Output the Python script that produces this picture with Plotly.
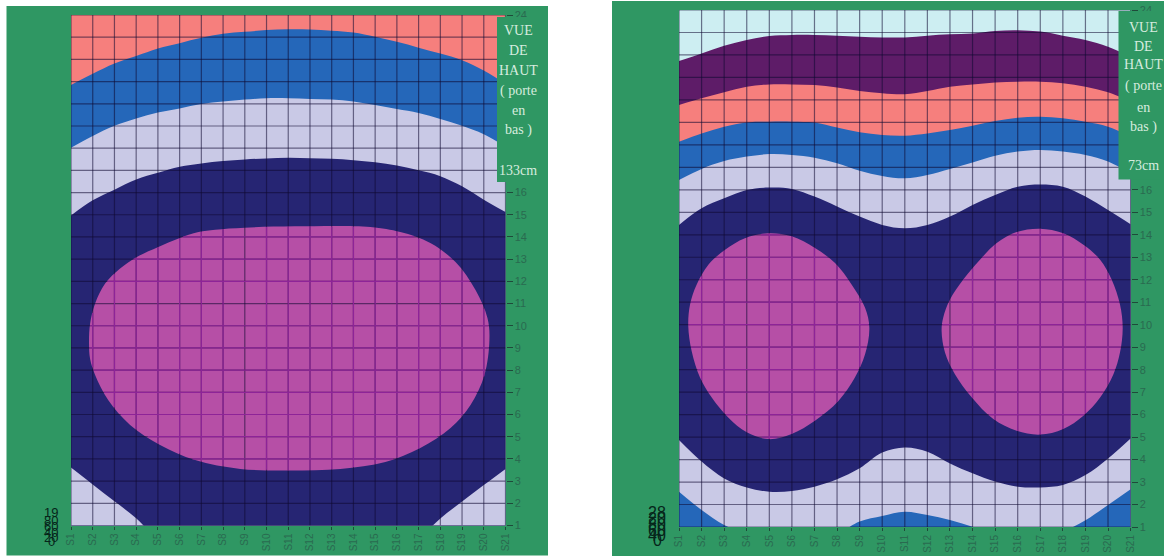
import plotly.graph_objects as go

W, H = 1164, 556
GREEN = "#2f9763"
SALMON = "#f67f7d"
BLUE = "#2567b9"
LAV = "#c9c9e6"
NAVY = "#262573"
PINK = "#b64fa6"
PURPLE = "#5e1c68"
ICE = "#cdeef2"

categories = [f"S{i}" for i in range(1, 22)]
col = list(range(1, 22))
rows = list(range(1, 25))
shown_rows = list(range(1, 17)) + [24]

# ---- left chart (133cm)
l_top = [24] * 21
l_salmon_blue = [20.85, 21.35, 21.81, 22.15, 22.49, 22.73, 22.97, 23.15, 23.24, 23.32, 23.36, 23.35, 23.29, 23.21, 23.02, 22.79, 22.53, 22.26, 21.96, 21.5, 20.9]
l_blue_lav = [18.02, 18.55, 19.01, 19.34, 19.61, 19.79, 19.99, 20.1, 20.19, 20.25, 20.25, 20.22, 20.19, 20.1, 19.94, 19.76, 19.58, 19.31, 19.01, 18.63, 18.07]
l_lav_navy = [14.97, 15.65, 16.13, 16.59, 16.89, 17.16, 17.31, 17.42, 17.49, 17.54, 17.57, 17.55, 17.52, 17.46, 17.37, 17.22, 17.0, 16.74, 16.28, 15.68, 15.12]
l_navy_lav = [3.61, 2.85, 2.09, 1.33, 0.4, 0.1, 0.1, 0.1, 0.1, 0.1, 0.1, 0.1, 0.1, 0.1, 0.1, 0.1, 0.45, 1.32, 2.08, 2.82, 3.55]
l_pink_s = [1.83, 1.88, 2.11, 2.57, 3.26, 4.03, 5.02, 5.95, 6.87, 7.64, 9.0, 11.3, 14.78, 16.16, 17.54, 18.7, 19.62, 20.17, 20.26, 20.03, 19.39, 18.47, 17.08, 15.47, 13.4, 11.09, 8.79, 6.71, 5.1, 3.72, 2.71, 2.11, 1.88, 1.83]
l_pink_v = [9.2, 10.1, 11.0, 11.9, 12.58, 13.1, 13.55, 13.93, 14.22, 14.33, 14.42, 14.48, 14.45, 14.22, 13.73, 12.87, 11.61, 10.35, 9.36, 7.78, 6.43, 5.39, 4.49, 3.86, 3.55, 3.48, 3.55, 3.95, 4.63, 5.53, 6.65, 7.78, 8.5, 9.2]

# ---- right chart (73cm)
r_top = [24] * 21
r_ice_purple = [21.73, 22.07, 22.41, 22.67, 22.84, 22.89, 22.89, 22.86, 22.81, 22.78, 22.78, 22.86, 22.92, 22.96, 23.07, 23.1, 23.04, 22.86, 22.67, 22.37, 21.92]
r_purple_salmon = [19.77, 20.07, 20.34, 20.59, 20.69, 20.69, 20.66, 20.55, 20.4, 20.3, 20.25, 20.4, 20.59, 20.69, 20.78, 20.81, 20.81, 20.74, 20.59, 20.34, 19.92]
r_salmon_blue = [18.14, 18.51, 18.81, 19.0, 19.03, 19.03, 18.99, 18.77, 18.56, 18.44, 18.41, 18.51, 18.66, 18.85, 19.06, 19.21, 19.25, 19.18, 19.03, 18.81, 18.37]
r_blue_lav = [16.44, 16.93, 17.28, 17.48, 17.59, 17.55, 17.43, 17.18, 16.85, 16.62, 16.51, 16.66, 16.93, 17.22, 17.52, 17.7, 17.77, 17.7, 17.55, 17.26, 16.73]
r_lav_navy = [14.44, 15.18, 15.62, 15.99, 16.1, 16.04, 15.7, 15.26, 14.81, 14.44, 14.29, 14.44, 14.81, 15.33, 15.77, 16.14, 16.24, 16.14, 15.7, 15.1, 14.47]
r_navy_lav = [4.87, 3.91, 3.16, 2.76, 2.57, 2.6, 2.79, 3.12, 3.61, 4.31, 4.54, 4.35, 3.83, 3.39, 3.02, 2.79, 2.76, 2.87, 3.31, 4.05, 4.94]
r_lav_blue = [2.57, 1.76, 1.09, 0.7, 0.5, 0.4, 0.5, 0.7, 1.24, 1.49, 1.68, 1.53, 1.31, 1.01, 0.7, 0.5, 0.5, 0.8, 1.3, 1.98, 2.68]
r_pink1_s = [4.96, 3.92, 3.04, 2.3, 1.78, 1.49, 1.41, 1.56, 1.93, 2.45, 3.18, 4.0, 4.96, 5.99, 7.02, 8.06, 8.79, 9.24, 9.43, 9.24, 8.65, 7.91, 7.02, 5.99, 4.96]
r_pink1_v = [14.07, 13.85, 13.33, 12.67, 11.78, 10.9, 9.94, 8.83, 7.65, 6.76, 5.87, 5.21, 4.91, 5.14, 5.73, 6.61, 7.65, 8.68, 9.86, 10.75, 11.78, 12.74, 13.41, 13.93, 14.07]
r_pink2_s = [16.99, 15.95, 15.07, 14.33, 13.59, 13.0, 12.7, 12.63, 12.78, 13.22, 13.96, 14.92, 15.95, 16.99, 18.02, 18.91, 19.65, 20.24, 20.53, 20.65, 20.53, 20.16, 19.65, 18.91, 18.02, 16.99]
r_pink2_v = [14.27, 14.12, 13.63, 12.89, 12.01, 11.12, 10.31, 9.72, 8.76, 7.8, 6.77, 5.8, 5.28, 5.11, 5.36, 5.95, 6.76, 7.8, 8.76, 9.86, 10.9, 12.01, 12.89, 13.56, 14.07, 14.27]

panel_lines = ["VUE", "DE", "HAUT", "( porte", "en", "bas )"]
l_stack = ["19", "80", "60", "40", "20", "0"]
r_stack = ["28", "20", "80", "60", "40", "0"]

fig = go.Figure()


def band(y, color, ax):
    fig.add_trace(go.Scatter(x=col, y=y, mode="lines", line=dict(color=color, width=0, shape="spline", smoothing=1),
                             fill="tozeroy", fillcolor=color, hoverinfo="skip", showlegend=False, xaxis=f"x{ax}", yaxis=f"y{ax}"))


def blob(s, v, ax):
    fig.add_trace(go.Scatter(x=s, y=v, mode="lines", line=dict(color=PINK, width=0, shape="spline", smoothing=1),
                             fill="toself", fillcolor=PINK, hoverinfo="skip", showlegend=False, xaxis=f"x{ax}", yaxis=f"y{ax}"))


def grid(ax):
    xs, ys = [], []
    for c in col:
        xs += [c, c, None]
        ys += [rows[0], rows[-1], None]
    for r in rows:
        xs += [col[0], col[-1], None]
        ys += [r, r, None]
    fig.add_trace(go.Scatter(x=xs, y=ys, mode="lines", line=dict(color="rgba(15,10,50,0.55)", width=1.2),
                             hoverinfo="skip", showlegend=False, xaxis=f"x{ax}", yaxis=f"y{ax}"))


def crossings(a, b, level):
    out = []
    for i in range(len(a) - 1):
        if (a[i] - level) * (a[i + 1] - level) < 0:
            t = (level - a[i]) / (a[i + 1] - a[i])
            out.append(b[i] + t * (b[i + 1] - b[i]))
    return out


def blob_grid(s, v, ax):
    xs, ys = [], []
    for c in col:
        hits = crossings(s, v, c)
        if len(hits) >= 2:
            xs += [c, c, None]
            ys += [min(hits), max(hits), None]
    for r in rows:
        hits = crossings(v, s, r)
        if len(hits) >= 2:
            xs += [min(hits), max(hits), None]
            ys += [r, r, None]
    fig.add_trace(go.Scatter(x=xs, y=ys, mode="lines", line=dict(color="rgb(142,36,152)", width=1.2),
                             hoverinfo="skip", showlegend=False, xaxis=f"x{ax}", yaxis=f"y{ax}"))


for y, c in [(l_top, SALMON), (l_salmon_blue, BLUE), (l_blue_lav, LAV), (l_lav_navy, NAVY), (l_navy_lav, LAV)]:
    band(y, c, "")
blob(l_pink_s, l_pink_v, "")
grid("")
blob_grid(l_pink_s, l_pink_v, "")

for y, c in [(r_top, ICE), (r_ice_purple, PURPLE), (r_purple_salmon, SALMON), (r_salmon_blue, BLUE),
             (r_blue_lav, LAV), (r_lav_navy, NAVY), (r_navy_lav, LAV), (r_lav_blue, BLUE)]:
    band(y, c, "2")
blob(r_pink1_s, r_pink1_v, "2")
blob(r_pink2_s, r_pink2_v, "2")
grid("2")
blob_grid(r_pink1_s, r_pink1_v, "2")
blob_grid(r_pink2_s, r_pink2_v, "2")


def px(x):
    return x / W


def py(y):
    return 1 - y / H


def xaxis(domain, anchor):
    return dict(domain=domain, anchor=anchor, range=[1, 21], tickmode="array", tickvals=col, ticktext=categories,
                tickangle=-90, tickfont=dict(family="Liberation Sans", size=10, color="#2a6a50"), showgrid=False,
                zeroline=False, ticks="outside", ticklen=3, tickcolor="#1f4a3a", showline=False, fixedrange=True)


def yaxis(domain, anchor):
    return dict(domain=domain, anchor=anchor, side="right", range=[1, 24], tickmode="array", tickvals=shown_rows,
                ticktext=[str(r) for r in shown_rows], tickfont=dict(family="Liberation Sans", size=11, color="#2a6a50"),
                showgrid=False, zeroline=False, ticks="outside", ticklen=6, tickcolor="#1f4a3a", showline=False, fixedrange=True)


shapes = [
    dict(type="rect", xref="paper", yref="paper", x0=px(6.5), x1=px(548), y0=py(555.5), y1=py(6), fillcolor=GREEN, line_width=0, layer="below"),
    dict(type="rect", xref="paper", yref="paper", x0=px(612), x1=px(1164), y0=py(556), y1=py(1), fillcolor=GREEN, line_width=0, layer="below"),
    dict(type="rect", xref="paper", yref="paper", x0=px(497), x1=px(527), y0=py(182), y1=py(17), fillcolor=GREEN, line_width=0, layer="above"),
    dict(type="rect", xref="paper", yref="paper", x0=px(1118.5), x1=px(1160), y0=py(179.5), y1=py(11), fillcolor=GREEN, line_width=0, layer="above"),
]

annotations = []


def label(text, x, y, size, color, family):
    annotations.append(dict(text=text, xref="paper", yref="paper", x=px(x), y=py(y), showarrow=False,
                            xanchor="center", yanchor="middle", font=dict(family=family, size=size, color=color)))


for t, y in zip(panel_lines + ["133cm"], [30, 50, 70, 91, 110, 130, 170]):
    label(t, 518, y, 14, "#d6ecdf", "Liberation Serif")
for t, y in zip(panel_lines + ["73cm"], [27, 46, 65, 86, 107, 127, 166]):
    label(t, 1143, y, 14, "#d6ecdf", "Liberation Serif")
for t, y in zip(l_stack, [512, 520, 526, 532, 537, 541]):
    label(t, 51, y, 13, "#06251a", "Liberation Sans")
for t, y in zip(r_stack, [512, 518, 524, 530, 535, 540]):
    label(t, 657, y, 16, "#06251a", "Liberation Sans")

fig.update_layout(
    width=W, height=H, autosize=False, margin=dict(l=0, r=0, t=0, b=0, pad=0, autoexpand=False),
    paper_bgcolor="white", plot_bgcolor="rgba(0,0,0,0)",
    showlegend=False, shapes=shapes, annotations=annotations,
    xaxis=xaxis([px(71), px(505.5)], "y"), yaxis=yaxis([py(525.5), py(15)], "x"),
    xaxis2=xaxis([px(679), px(1130.6)], "y2"), yaxis2=yaxis([py(527), py(10)], "x2"),
)

fig.write_html("out.html", config=dict(displayModeBar=False), post_script="document.body.style.margin='0';")
